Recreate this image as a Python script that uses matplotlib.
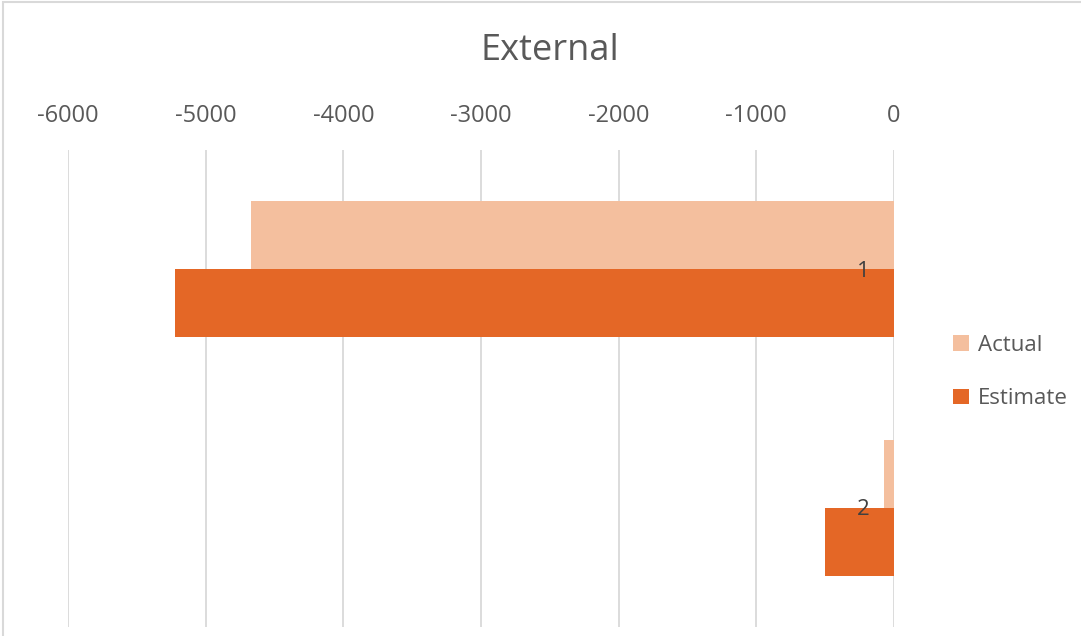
import matplotlib
matplotlib.use("Agg")
import matplotlib.pyplot as plt
from matplotlib.patches import Rectangle
import numpy as np

categories = ["1", "2"]
actual = [-4670, -70]
estimate = [-5220, -500]
series_names = ["Actual", "Estimate"]
colors = ["#F4BF9E", "#E46726"]
x_ticks = [-6000, -5000, -4000, -3000, -2000, -1000, 0]

plt.rcParams['font.family'] = ['Open Sans', 'DejaVu Sans']
text_color = "#595959"
grid_color = "#D9D9D9"

W, H = 1081, 636
fig = plt.figure(figsize=(W / 100, H / 100), dpi=100)
ax = fig.add_axes([68 / W, (H - 627) / H, (894 - 68) / W, (627 - 150) / H])

y = np.arange(len(categories))
h = 0.285
b1 = ax.barh(y - h / 2, actual, height=h, color=colors[0], label=series_names[0], zorder=2)
b2 = ax.barh(y + h / 2, estimate, height=h, color=colors[1], label=series_names[1], zorder=2)

ax.set_xlim(-6000, 0)
ax.set_ylim(len(categories) - 0.5, -0.5)
ax.set_xticks(x_ticks)
ax.set_xticklabels([str(t) for t in x_ticks])
ax.xaxis.tick_top()
ax.tick_params(axis='x', length=0, pad=16, labelsize=17, labelcolor=text_color)
ax.set_yticks([])
for s in ax.spines.values():
    s.set_visible(False)
ax.grid(axis='x', color=grid_color, linewidth=1.3, zorder=0)
ax.set_axisbelow(True)

for i, c in enumerate(categories):
    ax.annotate(c, xy=(0, i), xytext=(-24, -2), textcoords='offset pixels',
                ha='right', va='center', fontsize=16, color="#404040", zorder=3)

fig.text(550 / W, 1 - 51 / H, "External", ha='center', va='center', fontsize=26, color=text_color)

leg = fig.legend(handles=[b1, b2], loc='center left', bbox_to_anchor=(942 / W, 1 - 372 / H),
                 frameon=False, fontsize=16, handlelength=0.7, handleheight=0.7,
                 handletextpad=0.4, labelspacing=1.46, borderpad=0)
for t in leg.get_texts():
    t.set_color(text_color)

fig.patches.append(Rectangle((3 / W, -0.01), 1.02, 1 - 2 / H + 0.01, transform=fig.transFigure,
                             fill=False, edgecolor=grid_color, linewidth=1.5))

fig.savefig("out.png", dpi=100, facecolor="white")
